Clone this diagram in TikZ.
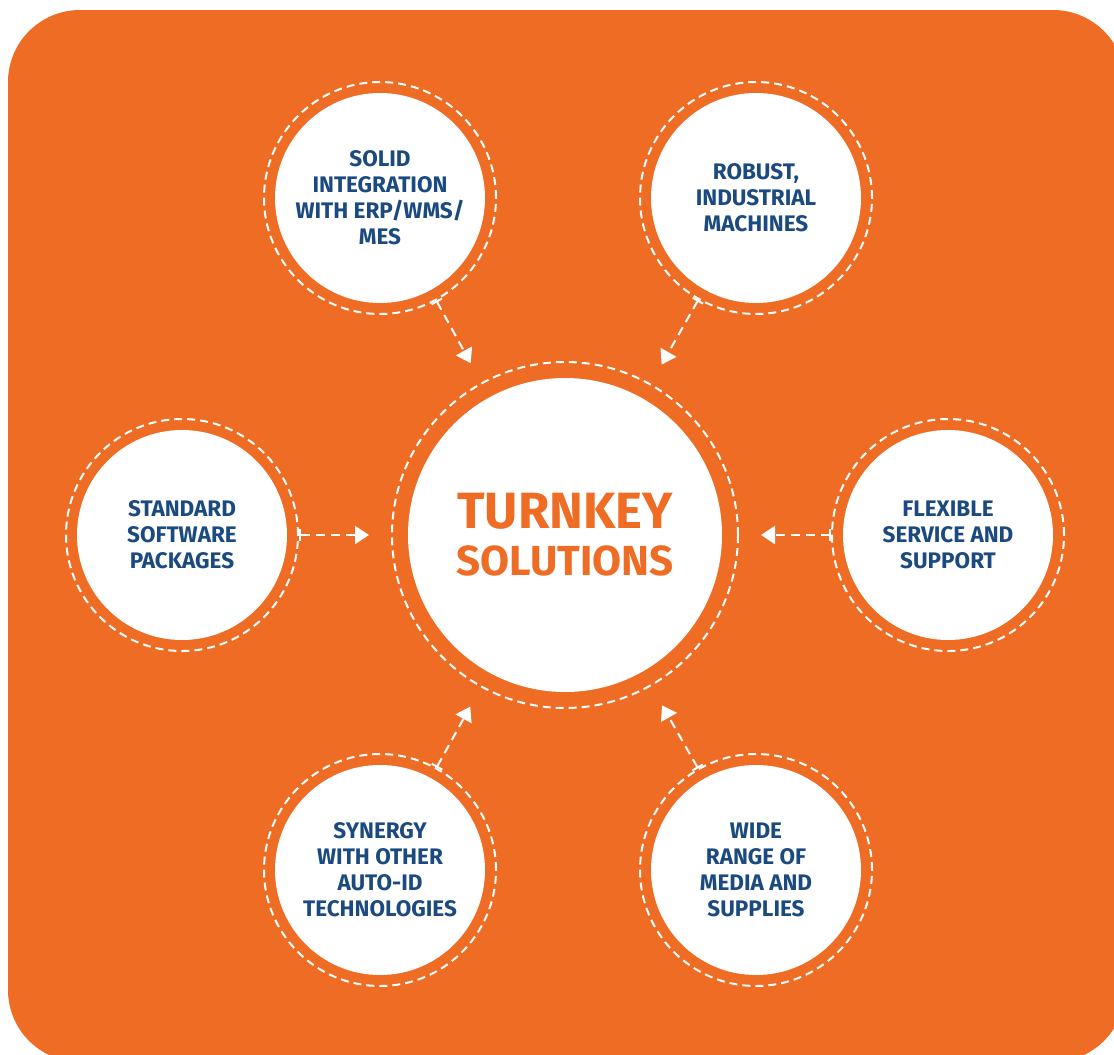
\documentclass[tikz,border=0pt]{standalone}
\usepackage{fontspec}
\setmainfont{Fira Sans}
\usetikzlibrary{arrows.meta}
\definecolor{bgorange}{HTML}{EE6C23}
\definecolor{txtblue}{HTML}{1B4A80}

\begin{document}
\begin{tikzpicture}[x=1pt,y=-1pt,line width=2pt,
bubble/.style={circle,fill=white,minimum size=210pt,inner sep=0pt,align=center,text=txtblue,font=\fontsize{22.5}{26}\selectfont\bfseries},
ring/.style={circle,draw=white,dash pattern=on 8pt off 5pt,minimum size=232pt,inner sep=0pt},
link/.style={draw=white,dash pattern=on 9pt off 6pt,{Bar[width=12pt]}-{Triangle[width=18pt,length=14pt]},shorten >=22pt}]

\useasboundingbox (0,0) rectangle (1114,1055);
\clip (0,0) rectangle (1114,1055);
\fill[bgorange,rounded corners=72pt] (8,10) rectangle (1125,1062);

% centre
\draw (565,535) node[ring,minimum size=346pt] (turnkeyR) {} node[bubble,minimum size=314pt,text=bgorange,font=\fontsize{42}{47}\selectfont\bfseries] (turnkey) {{\fontsize{51}{47}\selectfont TURNKEY}\\SOLUTIONS};

% outer bubbles
\draw (380,198) node[ring] (solidR) {} node[bubble] (solid) {SOLID\\INTEGRATION\\WITH ERP/WMS/\\MES};
\draw (756,198) node[ring] (robustR) {} node[bubble] (robust) {ROBUST,\\INDUSTRIAL\\MACHINES};
\draw (182,535) node[ring] (stdR) {} node[bubble] (std) {STANDARD\\SOFTWARE\\PACKAGES};
\draw (948,535) node[ring] (flexR) {} node[bubble] (flex) {FLEXIBLE\\SERVICE AND\\SUPPORT};
\draw (380,870) node[ring] (synR) {} node[bubble] (syn) {SYNERGY\\WITH OTHER\\AUTO-ID\\TECHNOLOGIES};
\draw (756,870) node[ring] (wideR) {} node[bubble] (wide) {WIDE\\RANGE OF\\MEDIA AND\\SUPPLIES};

\draw[link] (solidR) -- (turnkeyR);
\draw[link] (robustR) -- (turnkeyR);
\draw[link] (stdR) -- (turnkeyR);
\draw[link] (flexR) -- (turnkeyR);
\draw[link] (synR) -- (turnkeyR);
\draw[link] (wideR) -- (turnkeyR);
\end{tikzpicture}
\end{document}
